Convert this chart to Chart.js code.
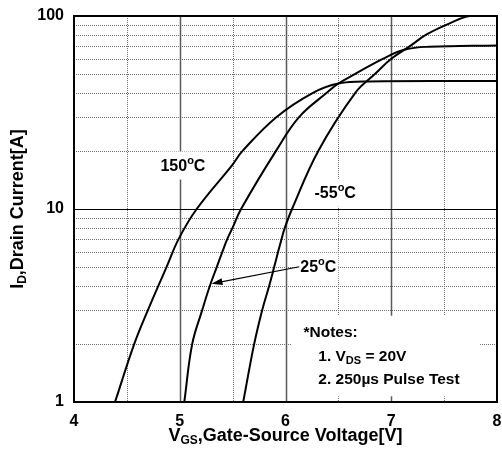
<!DOCTYPE html>
<html>
<head>
<meta charset="utf-8">
<script src="https://cdn.jsdelivr.net/npm/chart.js@4.4.1/dist/chart.umd.min.js"></script>
<style>
    html, body { margin: 0; padding: 0; background: #fff; }
</style>
</head>
<body>
<canvas id="chartTransfer" width="502" height="454"></canvas>
<script>
/**
 * Data
 */
const vgs150 = [4.388, 4.57, 4.70, 4.875, 4.99, 5.16, 5.50, 5.594, 5.916, 6.26, 6.50, 6.80, 8.00];
const id150 = [1, 2, 3, 5, 7, 10, 17, 20, 30, 40, 44.7, 45.8, 46.0];

const vgs25 = [5.043, 5.118, 5.213, 5.285, 5.35, 5.403, 5.45, 5.50, 5.58, 5.91, 6.13, 6.39, 6.50, 6.656, 6.92, 7.13, 7.36, 8.00];
const id25 = [1, 2, 3, 4, 5, 6, 7, 8, 10, 20, 30, 40, 44.7, 50, 60, 67, 69.3, 70.4];

const vgsM55 = [5.60, 5.704, 5.78, 5.846, 5.893, 5.93, 5.963, 5.994, 6.062, 6.31, 6.66, 6.845, 7.00, 7.18, 7.33, 7.52, 7.74, 8.00];
const idM55 = [1, 2, 3, 4, 5, 6, 7, 8, 10, 20, 40, 50, 60, 70, 80, 90, 100, 100];

/**
 * Ticks
 */
const xTicks = [4, 5, 6, 7, 8];
const xMajor = [5, 6, 7];
const xMinor = [4.5, 5.5, 6.5, 7.5];
const yTicks = [1, 2, 3, 4, 5, 6, 7, 8, 9, 10, 20, 30, 40, 50, 60, 70, 80, 90, 100];
const yLabelled = [1, 10, 100];
const yMajor = [10];
const yMinor = [2, 3, 4, 5, 6, 7, 8, 9, 20, 30, 40, 50, 60, 70, 80, 90];

/**
 * Notes
 */
const notes = ['*Notes:', '1. V', 'DS', ' = 20V', '2. 250\u00b5s Pulse Test'];

const FONT = '"Liberation Sans", Arial, sans-serif';

function points(xs, ys) {
    return xs.map((v, i) => ({ x: v, y: ys[i] }));
}

/**
 * Text with sub / superscripts: parts = [text, size, dy]
 */
function rich(ctx, parts, x, y, align) {
    let w = 0;
    parts.forEach(p => {
        ctx.font = 'bold ' + p[1] + 'px ' + FONT;
        w += ctx.measureText(p[0]).width;
    });
    let cx = align === 'center' ? x - w / 2 : x;
    parts.forEach(p => {
        ctx.font = 'bold ' + p[1] + 'px ' + FONT;
        ctx.fillText(p[0], cx, y + p[2]);
        cx += ctx.measureText(p[0]).width;
    });
    return w;
}

function deg(txt) {
    return [[txt, 16, 0], ['o', 11, -6], ['C', 16, 0]];
}

/**
 * Labels on the curves (anchored in data units)
 */
const labels = [
    { parts: deg('150'), v: 5.03, i: 16.6 },
    { parts: deg('-55'), v: 6.47, i: 12.0 },
    { parts: deg('25'), v: 6.31, i: 4.96 }
];

const gridPlugin = {
    id: 'gridPlugin',
    beforeDatasetsDraw(chart) {
        const { ctx, chartArea: a, scales: { x, y } } = chart;
        const vline = v => { const p = Math.round(x.getPixelForValue(v)) + 0.5; ctx.beginPath(); ctx.moveTo(p, a.top); ctx.lineTo(p, a.bottom); ctx.stroke(); };
        const hline = v => { const p = Math.round(y.getPixelForValue(v)) + 0.5; ctx.beginPath(); ctx.moveTo(a.left, p); ctx.lineTo(a.right, p); ctx.stroke(); };
        ctx.save();

        /**
         * Minor (dotted)
         */
        ctx.strokeStyle = '#6e6e6e';
        ctx.lineWidth = 1;
        ctx.setLineDash([1, 1]);
        xMinor.forEach(vline);
        yMinor.forEach(hline);

        /**
         * Major (solid)
         */
        ctx.setLineDash([]);
        ctx.strokeStyle = '#5a5a5a';
        ctx.lineWidth = 1.5;
        xMajor.forEach(vline);
        ctx.strokeStyle = '#000';
        ctx.lineWidth = 1.2;
        yMajor.forEach(hline);

        /**
         * White boxes under labels
         */
        ctx.fillStyle = '#fff';
        ctx.textBaseline = 'middle';
        labels.forEach(l => {
            let w = 0;
            l.parts.forEach(p => { ctx.font = 'bold ' + p[1] + 'px ' + FONT; w += ctx.measureText(p[0]).width; });
            const cx = x.getPixelForValue(l.v), cy = y.getPixelForValue(l.i);
            ctx.fillRect(cx - w / 2 - 2, cy - 15, w + 4, 28);
        });
        const bx1 = x.getPixelForValue(6.06), bx2 = x.getPixelForValue(7.84);
        const by1 = y.getPixelForValue(2.8), by2 = y.getPixelForValue(1.07);
        ctx.fillRect(bx1, by1, bx2 - bx1, by2 - by1);
        ctx.restore();
    },
    afterDatasetsDraw(chart) {
        const { ctx, chartArea: a, scales: { x, y } } = chart;
        ctx.save();
        ctx.fillStyle = '#000';
        ctx.textBaseline = 'middle';

        /**
         * Curve labels
         */
        labels.forEach(l => rich(ctx, l.parts, x.getPixelForValue(l.v), y.getPixelForValue(l.i), 'center'));

        /**
         * Arrow to the 25 C curve
         */
        const x1 = x.getPixelForValue(6.13), y1 = y.getPixelForValue(5.02);
        const x2 = x.getPixelForValue(5.30), y2 = y.getPixelForValue(4.10);
        const ang = Math.atan2(y2 - y1, x2 - x1);
        ctx.strokeStyle = '#000';
        ctx.lineWidth = 1.2;
        ctx.beginPath();
        ctx.moveTo(x1, y1);
        ctx.lineTo(x2 - 6 * Math.cos(ang), y2 - 6 * Math.sin(ang));
        ctx.stroke();
        ctx.beginPath();
        ctx.moveTo(x2, y2);
        ctx.lineTo(x2 - 11 * Math.cos(ang) + 3.5 * Math.sin(ang), y2 - 11 * Math.sin(ang) - 3.5 * Math.cos(ang));
        ctx.lineTo(x2 - 11 * Math.cos(ang) - 3.5 * Math.sin(ang), y2 - 11 * Math.sin(ang) + 3.5 * Math.cos(ang));
        ctx.closePath();
        ctx.fill();

        /**
         * Notes
         */
        rich(ctx, [[notes[0], 15.5, 0]], x.getPixelForValue(6.17), y.getPixelForValue(2.28), 'left');
        rich(ctx, [[notes[1], 15.5, 0], [notes[2], 11, 4], [notes[3], 15.5, 0]], x.getPixelForValue(6.31), y.getPixelForValue(1.71), 'left');
        rich(ctx, [[notes[4], 15.5, 0]], x.getPixelForValue(6.31), y.getPixelForValue(1.30), 'left');

        /**
         * Frame
         */
        ctx.strokeStyle = '#000';
        ctx.lineWidth = 2;
        ctx.strokeRect(a.left, a.top, a.right - a.left, a.bottom - a.top);

        /**
         * Axis titles
         */
        const xc = (a.left + a.right) / 2;
        rich(ctx, [['V', 18, 0], ['GS', 12, 5], [',Gate-Source Voltage[V]', 18, 0]], xc, 436, 'center');
        ctx.translate(18, (a.top + a.bottom) / 2);
        ctx.rotate(-Math.PI / 2);
        rich(ctx, [['I', 18, 0], ['D', 12, 5], [',Drain Current[A]', 18, 0]], 0, 0, 'center');
        ctx.restore();
    }
};

const curve = (label, data) => ({
    label: label,
    data: data,
    borderColor: '#000',
    borderWidth: 2,
    pointRadius: 0,
    fill: false,
    tension: 0.4
});

new Chart(document.getElementById('chartTransfer'), {
    /**
     * Type
     */
    type: 'line',

    /**
     * Data
     */
    data: {
        datasets: [
            curve('150\u00b0C', points(vgs150, id150)),
            curve('25\u00b0C', points(vgs25, id25)),
            curve('-55\u00b0C', points(vgsM55, idM55))
        ]
    },

    /**
     * Options
     */
    options: {
        responsive: false,
        animation: false,
        layout: { padding: { top: 16, right: 5, left: 0, bottom: 0 } },
        plugins: {
            legend: { display: false },
            tooltip: { enabled: false }
        },
        scales: {
            x: {
                type: 'linear',
                min: 4,
                max: 8,
                afterBuildTicks: s => { s.ticks = xTicks.map(v => ({ value: v })); },
                afterFit: s => { s.height = 52; s.paddingLeft = 0; s.paddingRight = 0; },
                grid: { display: false, drawTicks: false },
                border: { display: false },
                ticks: {
                    color: '#000',
                    padding: 10,
                    font: { family: FONT, size: 16, weight: 'bold' }
                }
            },
            y: {
                type: 'logarithmic',
                min: 1,
                max: 100,
                afterBuildTicks: s => { s.ticks = yTicks.map(v => ({ value: v })); },
                afterFit: s => { s.width = 74; s.paddingTop = 0; s.paddingBottom = 0; },
                grid: { display: false, drawTicks: false },
                border: { display: false },
                ticks: {
                    color: '#000',
                    padding: 10,
                    autoSkip: false,
                    font: { family: FONT, size: 16, weight: 'bold' },
                    callback: v => yLabelled.includes(v) ? String(v) : ''
                }
            }
        }
    },
    plugins: [gridPlugin]
});
</script>
</body>
</html>
